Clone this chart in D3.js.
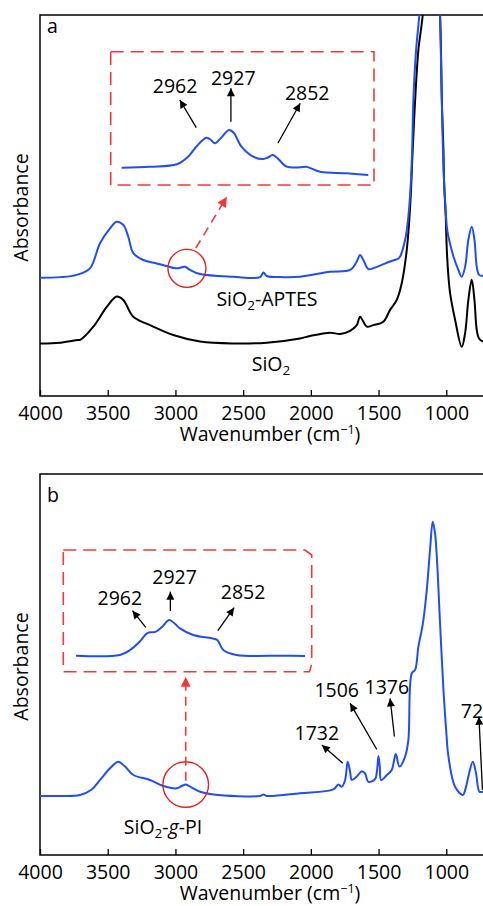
<!DOCTYPE html>
<html><head><meta charset="utf-8">
<script src="https://cdn.jsdelivr.net/npm/d3@7"></script>
<style>
html,body{margin:0;padding:0;background:#fff;}
svg text{font-family:"Open Sans","Noto Sans",sans-serif;fill:#000;}
</style></head>
<body><svg id="c" width="483" height="906"></svg>
<script>
// ---------- data ----------
const xTicks = [4000, 3500, 3000, 2500, 2000, 1500, 1000];
// [wavenumber, absorbance (a.u.)]
const sio2 = [[4000,13.8],[3850,14.0],[3719,14.7],[3705,14.7],[3606,18.2],[3507,23.4],[3434,26.1],[3385,25.2],[3311,20.8],[3188,18.6],[3016,16.0],[2818,14.3],[2572,13.8],[2326,14.0],[2080,15.1],[2006,15.75],[1858,16.6],[1784,16.3],[1710,17.1],[1661,18.6],[1637,20.8],[1612,19.5],[1587,18.2],[1538,18.6],[1465,19.5],[1415,22.6],[1366,25.2],[1329,29.6],[1292,38.3],[1267,49.7],[1248,64.6],[1230,77.7],[1206,90.8],[1174,100],[1150,115],[1120,125],[1100,127],[1080,124],[1060,112],[1046,100],[1039,90.8],[1033,77.7],[1021,64.6],[1016,55.8],[1004,47.1],[996,38.3],[984,31.3],[972,27.0],[935,20.0],[886,12.9],[861,16.5],[837,25.2],[812,30.5],[792,25.2],[775,17.3],[758,15.1],[728,14.3],[700,14.2]];
const sio2Aptes = [[4000,31.05],[3850,31.2],[3729,31.8],[3631,33.5],[3557,40.1],[3483,44.0],[3434,45.75],[3385,44.9],[3348,41.8],[3311,37.5],[3237,35.7],[3138,34.8],[3064,34.1],[2990,33.5],[2953,33.8],[2929,33.9],[2892,33.1],[2818,32.0],[2572,31.3],[2375,31.2],[2350,32.4],[2326,31.5],[2203,31.2],[2080,31.3],[1858,32.6],[1710,33.1],[1661,35.3],[1637,37.0],[1612,35.7],[1575,33.3],[1513,33.9],[1415,35.3],[1353,36.1],[1341,36.6],[1304,41.0],[1280,47.1],[1262,55.8],[1252,64.6],[1243,77.7],[1223,90.8],[1199,100],[1180,110],[1150,122],[1100,128],[1070,120],[1055,108],[1046,100],[1033,77.7],[1021,60.2],[1009,51.5],[996,44.4],[984,41.8],[947,36.6],[911,33.1],[886,31.3],[861,33.9],[837,41.0],[812,44.4],[792,41.0],[775,33.9],[758,31.8],[728,31.5],[700,31.3]];
const sio2gPI = [[4000,15.5],[3850,15.5],[3705,15.75],[3618,17.2],[3557,19.7],[3483,22.75],[3422,24.5],[3372,23.2],[3311,21.0],[3188,19.7],[3089,18.1],[2990,17.5],[2953,18.1],[2924,18.5],[2880,17.7],[2818,16.6],[2720,15.9],[2375,15.5],[2350,15.9],[2326,15.5],[2080,16.2],[1834,17.2],[1797,18.5],[1772,17.9],[1747,19.7],[1728,24.5],[1710,21.8],[1698,19.7],[1661,20.6],[1624,22.0],[1600,21.4],[1575,19.2],[1526,19.9],[1511,22.3],[1501,26.0],[1491,23.2],[1481,19.7],[1439,21.0],[1403,22.3],[1373,26.5],[1346,23.2],[1304,25.8],[1280,30.2],[1255,47.7],[1230,48.6],[1206,54.7],[1181,59.1],[1169,61.7],[1144,69.6],[1120,80.1],[1100,87.5],[1083,84.4],[1070,78.3],[1046,60.8],[1021,43.3],[1001,32.8],[984,25.8],[935,17.9],[878,15.75],[854,17.9],[837,20.6],[804,24.5],[780,21.4],[755,16.6],[728,16.6],[700,16.5]];
// inset spectra (C-H stretching region)
const insetA = [[3110,0.166],[3062,0.186],[3016,0.234],[2997,0.386],[2982,0.6],[2966,0.766],[2960,0.74],[2951,0.654],[2941,0.76],[2927,0.92],[2919,0.86],[2906,0.586],[2886,0.386],[2869,0.34],[2861,0.37],[2853,0.42],[2845,0.36],[2829,0.186],[2806,0.174],[2796,0.186],[2772,0.086],[2727,0.054],[2690,0.02]];
const insetB = [[3082,0.006],[3009,0.02],[2992,0.12],[2975,0.3],[2964,0.454],[2949,0.486],[2939,0.58],[2927,0.72],[2917,0.64],[2909,0.554],[2887,0.42],[2856,0.354],[2847,0.32],[2837,0.12],[2815,0.02],[2737,0.006],[2701,0]];
// annotations: label, tail [wn,val], tip [wn,val], label position [wn,val]
const insetAnnA = [
  {label:"2962", tail:[2983,0.966], tip:[3011,1.52], pos:[3019,1.654]},
  {label:"2927", tail:[2924,1.086], tip:[2924,1.754], pos:[2920,1.82]},
  {label:"2852", tail:[2844,0.654], tip:[2806,1.454], pos:[2794,1.52]}];
const insetAnnB = [
  {label:"2962", tail:[2966,0.574], tip:[2988,0.906], pos:[3009,1.02]},
  {label:"2927", tail:[2925,0.9], tip:[2925,1.286], pos:[2918,1.434]},
  {label:"2852", tail:[2846,0.506], tip:[2819,0.966], pos:[2804,1.14]}];
const peakAnnB = [
  {label:"1732", tail:[1764,24.1], tip:[1919,28.9], pos:[1956,30.2], anchor:"middle"},
  {label:"1506", tail:[1513,27.7], tip:[1710,39.8], pos:[1809,41.4], anchor:"middle"},
  {label:"1376", tail:[1383,31.1], tip:[1415,41.1], pos:[1439,42.3], anchor:"middle"},
  {label:"720",  tail:[733,17.1],  tip:[759,36.3],  pos:[893,36.0], anchor:"start"}];

// ---------- drawing ----------
const svg = d3.select("#c");
const FS = 19.5;
const BLUE = "#1f4ef5", RED = "#f03a3a";
const defs = svg.append("defs");
function marker(id, color, w, h){
  defs.append("marker").attr("id", id).attr("viewBox","0 0 10 10").attr("refX",10).attr("refY",5)
    .attr("markerUnits","userSpaceOnUse").attr("markerWidth",w).attr("markerHeight",h).attr("orient","auto")
    .append("path").attr("d","M0,0L10,5L0,10Z").attr("fill",color);
}
marker("ahK","#000",10,8);
marker("ahR",RED,11,10);

const x = d3.scaleLinear().domain([4000,500]).range([40,514]);

function panel(top, bottom, id){
  const g = svg.append("g");
  defs.append("clipPath").attr("id",id).append("rect").attr("x",40).attr("y",top).attr("width",474).attr("height",bottom-top);
  // frame
  g.append("path").attr("d",`M520,${top}H40V${bottom}H520`).attr("fill","none").attr("stroke","#000").attr("stroke-width",1.5);
  const ax = g.append("g").attr("transform",`translate(0,${bottom})`)
    .call(d3.axisBottom(x).tickValues(xTicks).tickSizeInner(-6).tickSizeOuter(0).tickPadding(10).tickFormat(d3.format("d")));
  ax.select(".domain").remove();
  ax.selectAll("line").attr("stroke-width",1.3);
  ax.selectAll("text").attr("font-size",FS).attr("font-family","Open Sans");
  const t = g.append("text").attr("x",270).attr("y",bottom+45).attr("text-anchor","middle").attr("font-size",FS);
  t.append("tspan").text("Wavenumber (cm");
  t.append("tspan").attr("font-size",12.5).attr("dy",-7).text("−1");
  t.append("tspan").attr("dy",7).text(")");
  g.append("text").attr("transform",`translate(28,${(top+bottom)/2 + 2}) rotate(-90)`).attr("text-anchor","middle").attr("font-size",FS).text("Absorbance");
  return g;
}

function sub(textSel, parts){
  parts.forEach(p=>{
    const ts = textSel.append("tspan").text(p.t);
    if(p.sub){ ts.attr("font-size",13.5).attr("dy",4); }
    if(p.after){ ts.attr("dy",-4); }
    if(p.italic){ ts.attr("font-style","italic"); }
  });
}

function line(xs, ys){ return d3.line().x(d=>xs(d[0])).y(d=>ys(d[1])).curve(d3.curveCatmullRom.alpha(0.5)); }

function annotate(g, anns, xs, ys, fs){
  anns.forEach(a=>{
    g.append("line").attr("x1",xs(a.tail[0])).attr("y1",ys(a.tail[1])).attr("x2",xs(a.tip[0])).attr("y2",ys(a.tip[1]))
      .attr("stroke","#000").attr("stroke-width",1.3).attr("marker-end","url(#ahK)");
    g.append("text").attr("x",xs(a.pos[0])).attr("y",ys(a.pos[1])).attr("text-anchor",a.anchor||"middle").attr("font-size",fs).text(a.label);
  });
}

// ===== Panel a =====
const topA = 15, botA = 396;
const gA = panel(topA, botA, "clipA");
const yA = d3.scaleLinear().domain([0,100]).range([botA, topA]);
const cA = gA.append("g").attr("clip-path","url(#clipA)");
cA.append("path").datum(sio2).attr("d",line(x,yA)).attr("fill","none").attr("stroke","#000").attr("stroke-width",2);
cA.append("path").datum(sio2Aptes).attr("d",line(x,yA)).attr("fill","none").attr("stroke",BLUE).attr("stroke-width",2);
gA.append("text").attr("x",47).attr("y",33).attr("font-size",FS).text("a");
sub(gA.append("text").attr("x",267).attr("y",306).attr("text-anchor","middle").attr("font-size",FS),
  [{t:"SiO"},{t:"2",sub:true},{t:"-APTES",after:true}]);
sub(gA.append("text").attr("x",271).attr("y",371).attr("text-anchor","middle").attr("font-size",FS),
  [{t:"SiO"},{t:"2",sub:true}]);
// circle + arrow to inset
gA.append("circle").attr("cx",x(2915)).attr("cy",yA(33.5)).attr("r",19).attr("fill","none").attr("stroke","#e8201c").attr("stroke-width",1.4);
gA.append("line").attr("x1",x(2850)).attr("y1",yA(38.8)).attr("x2",x(2620)).attr("y2",yA(52.3))
  .attr("stroke",RED).attr("stroke-width",1.6).attr("stroke-dasharray","9,6").attr("marker-end","url(#ahR)");
// inset a
gA.append("rect").attr("x",110.7).attr("y",51.7).attr("width",263.3).attr("height",133.3)
  .attr("fill","none").attr("stroke",RED).attr("stroke-width",1.6).attr("stroke-dasharray","13,7");
const ixA = d3.scaleLinear().domain([3110,2690]).range([121.7,368.3]);
const iyA = d3.scaleLinear().domain([0,1]).range([176,126]);
gA.append("path").datum(insetA).attr("d",line(ixA,iyA)).attr("fill","none").attr("stroke",BLUE).attr("stroke-width",2);
annotate(gA, insetAnnA, ixA, iyA, FS);

// ===== Panel b =====
const topB = 474, botB = 855;
const gB = panel(topB, botB, "clipB");
const yB = d3.scaleLinear().domain([0,100]).range([botB, topB]);
const cB = gB.append("g").attr("clip-path","url(#clipB)");
cB.append("path").datum(sio2gPI).attr("d",line(x,yB)).attr("fill","none").attr("stroke",BLUE).attr("stroke-width",2);
gB.append("text").attr("x",47).attr("y",502).attr("font-size",FS).text("b");
sub(gB.append("text").attr("x",163).attr("y",834).attr("text-anchor","middle").attr("font-size",FS),
  [{t:"SiO"},{t:"2",sub:true},{t:"-",after:true},{t:"g",italic:true},{t:"-PI"}]);
annotate(cB, peakAnnB, x, yB, FS);
gB.append("circle").attr("cx",x(2924)).attr("cy",yB(18.5)).attr("r",22.8).attr("fill","none").attr("stroke","#e8201c").attr("stroke-width",1.4);
gB.append("line").attr("x1",x(2924)).attr("y1",yB(19.5)).attr("x2",x(2924)).attr("y2",yB(46.8))
  .attr("stroke",RED).attr("stroke-width",1.6).attr("stroke-dasharray","9,6").attr("marker-end","url(#ahR)");
gB.append("path").attr("d","M63.3,550H305L311.7,555V664L309.5,671.7H63.3Z")
  .attr("fill","none").attr("stroke",RED).attr("stroke-width",1.6).attr("stroke-dasharray","13,7");
const ixB = d3.scaleLinear().domain([3082,2701]).range([76,305]);
const iyB = d3.scaleLinear().domain([0,1]).range([656,606]);
gB.append("path").datum(insetB).attr("d",line(ixB,iyB)).attr("fill","none").attr("stroke",BLUE).attr("stroke-width",2);
annotate(gB, insetAnnB, ixB, iyB, FS);
</script></body></html>
